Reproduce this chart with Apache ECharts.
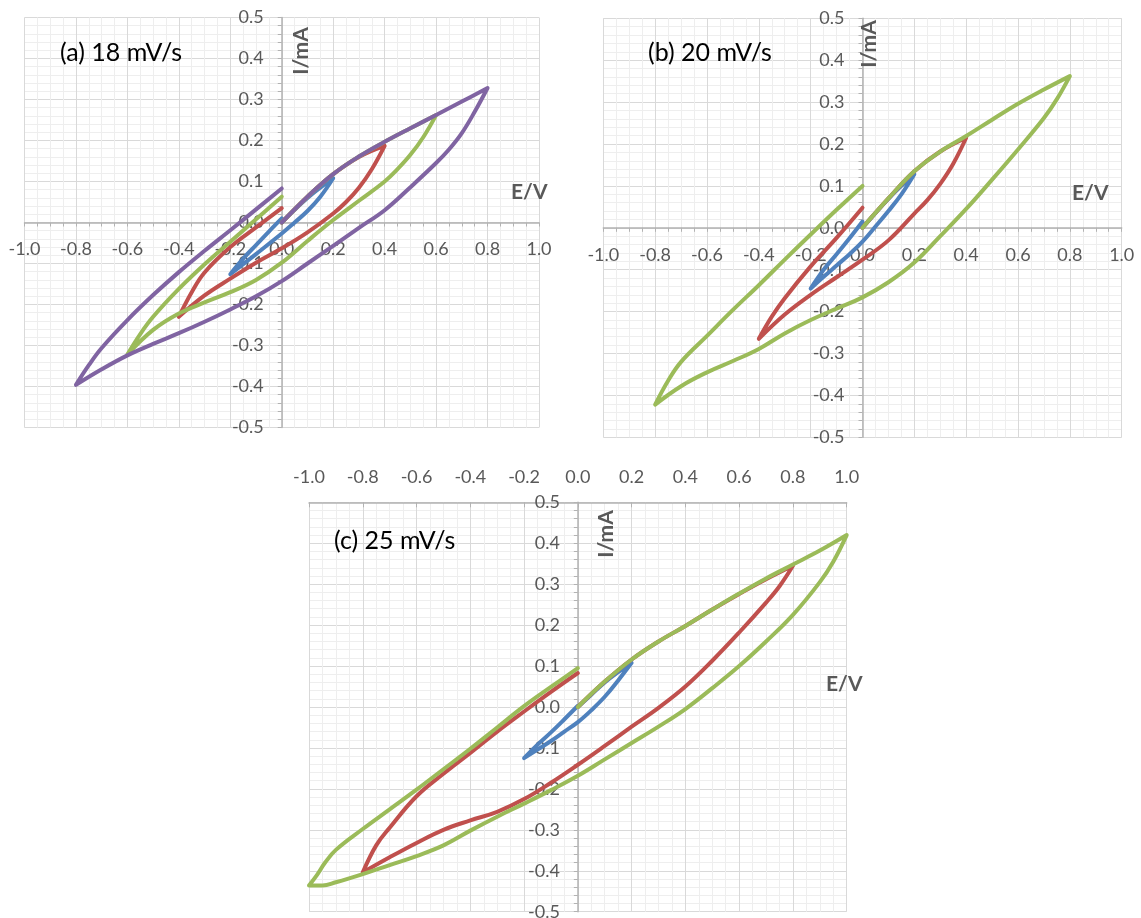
<!DOCTYPE html>
<html>
<head>
<meta charset="utf-8">
<script src="https://cdn.jsdelivr.net/npm/echarts@6/dist/echarts.min.js"></script>
<style>
  html, body { margin: 0; padding: 0; background: #fff; }
  #chart { width: 1141px; height: 918px; }
</style>
</head>
<body>
<div id="chart"></div>
<script>
// axis ticks (E/V and I/mA)
const eTicks = [-1.0, -0.8, -0.6, -0.4, -0.2, 0.0, 0.2, 0.4, 0.6, 0.8, 1.0];
const iTicks = [-0.5, -0.4, -0.3, -0.2, -0.1, 0.0, 0.1, 0.2, 0.3, 0.4, 0.5];

const panelTitles = ['(a) 18 mV/s', '(b) 20 mV/s', '(c) 25 mV/s'];

// (a) 18 mV/s  -- [E, I]
const aBlue = [[0,0],[0.05,0.031],[0.1,0.06],[0.15,0.085],[0.2,0.108],[0.15,0.063],[0.1,0.028],[0.05,0],[0,-0.027],[-0.1,-0.077],[-0.2,-0.126],[-0.15,-0.088],[-0.1,-0.055],[-0.05,-0.022],[0,0.01]];
const aRed = [[0,0],[0.1,0.063],[0.2,0.118],[0.3,0.16],[0.4,0.187],[0.35,0.13],[0.3,0.085],[0.25,0.05],[0.2,0.022],[0.1,-0.024],[0,-0.063],[-0.1,-0.098],[-0.2,-0.137],[-0.3,-0.178],[-0.4,-0.23],[-0.35,-0.17],[-0.3,-0.122],[-0.2,-0.06],[-0.1,-0.012],[0,0.035]];
const aGreen = [[0,0],[0.1,0.063],[0.2,0.118],[0.3,0.161],[0.4,0.197],[0.5,0.23],[0.6,0.262],[0.55,0.208],[0.5,0.165],[0.45,0.13],[0.4,0.1],[0.3,0.053],[0.2,0.006],[0.1,-0.045],[0,-0.098],[-0.1,-0.14],[-0.2,-0.17],[-0.3,-0.195],[-0.4,-0.222],[-0.5,-0.262],[-0.6,-0.322],[-0.55,-0.272],[-0.5,-0.23],[-0.4,-0.162],[-0.3,-0.102],[-0.2,-0.047],[-0.1,0.008],[0,0.063]];
const aPurple = [[0,0],[0.1,0.063],[0.2,0.118],[0.3,0.161],[0.4,0.197],[0.5,0.23],[0.6,0.262],[0.7,0.295],[0.8,0.328],[0.75,0.27],[0.7,0.218],[0.65,0.178],[0.6,0.145],[0.5,0.086],[0.4,0.03],[0.3,-0.013],[0.2,-0.057],[0.1,-0.1],[0,-0.143],[-0.1,-0.18],[-0.2,-0.212],[-0.3,-0.242],[-0.4,-0.27],[-0.5,-0.296],[-0.6,-0.324],[-0.7,-0.358],[-0.8,-0.396],[-0.75,-0.348],[-0.7,-0.306],[-0.6,-0.238],[-0.5,-0.177],[-0.4,-0.121],[-0.3,-0.069],[-0.2,-0.019],[-0.1,0.032],[0,0.083]];

// (b) 20 mV/s
const bBlue = [[0,0],[0.05,0.035],[0.1,0.069],[0.15,0.1],[0.2,0.128],[0.15,0.08],[0.1,0.04],[0.05,0.003],[0,-0.033],[-0.05,-0.063],[-0.1,-0.09],[-0.15,-0.117],[-0.2,-0.145],[-0.15,-0.1],[-0.1,-0.063],[-0.05,-0.025],[0,0.015]];
const bRed = [[0,0],[0.1,0.07],[0.2,0.135],[0.3,0.182],[0.4,0.215],[0.35,0.153],[0.3,0.105],[0.25,0.066],[0.2,0.034],[0.1,-0.03],[0,-0.076],[-0.1,-0.118],[-0.2,-0.16],[-0.3,-0.207],[-0.4,-0.265],[-0.35,-0.212],[-0.3,-0.168],[-0.2,-0.092],[-0.1,-0.024],[0,0.048]];
const bGreen = [[0,0],[0.1,0.07],[0.2,0.135],[0.3,0.182],[0.4,0.219],[0.5,0.258],[0.6,0.296],[0.7,0.33],[0.8,0.362],[0.75,0.307],[0.7,0.262],[0.6,0.187],[0.5,0.115],[0.4,0.045],[0.3,-0.02],[0.2,-0.083],[0.1,-0.13],[0,-0.166],[-0.1,-0.193],[-0.2,-0.22],[-0.3,-0.252],[-0.4,-0.289],[-0.5,-0.318],[-0.6,-0.345],[-0.7,-0.378],[-0.8,-0.422],[-0.75,-0.365],[-0.7,-0.32],[-0.6,-0.258],[-0.5,-0.196],[-0.4,-0.137],[-0.3,-0.076],[-0.2,-0.016],[-0.1,0.043],[0,0.1]];

// (c) 25 mV/s
const cBlue = [[0,0],[0.05,0.03],[0.1,0.06],[0.15,0.085],[0.2,0.108],[0.15,0.065],[0.1,0.025],[0.05,-0.008],[0,-0.037],[-0.05,-0.06],[-0.1,-0.083],[-0.15,-0.104],[-0.2,-0.125],[-0.15,-0.092],[-0.1,-0.062],[-0.05,-0.03],[0,0.003]];
const cRed = [[0,0],[0.1,0.062],[0.2,0.116],[0.3,0.16],[0.4,0.198],[0.5,0.238],[0.6,0.276],[0.7,0.312],[0.8,0.345],[0.75,0.295],[0.7,0.255],[0.6,0.182],[0.5,0.113],[0.4,0.05],[0.3,-0.002],[0.2,-0.048],[0.1,-0.095],[0,-0.141],[-0.1,-0.185],[-0.2,-0.225],[-0.3,-0.256],[-0.4,-0.277],[-0.5,-0.3],[-0.6,-0.332],[-0.7,-0.367],[-0.8,-0.404],[-0.75,-0.338],[-0.7,-0.295],[-0.6,-0.218],[-0.5,-0.163],[-0.4,-0.112],[-0.3,-0.06],[-0.2,-0.011],[-0.1,0.037],[0,0.083]];
const cGreen = [[0,0],[0.1,0.062],[0.2,0.116],[0.3,0.16],[0.4,0.198],[0.5,0.238],[0.6,0.277],[0.7,0.314],[0.8,0.348],[0.9,0.382],[1.0,0.42],[0.95,0.355],[0.9,0.305],[0.8,0.225],[0.7,0.16],[0.6,0.1],[0.5,0.046],[0.4,-0.005],[0.3,-0.048],[0.2,-0.088],[0.1,-0.128],[0,-0.168],[-0.1,-0.203],[-0.2,-0.236],[-0.3,-0.268],[-0.4,-0.302],[-0.5,-0.338],[-0.6,-0.364],[-0.7,-0.386],[-0.8,-0.408],[-0.9,-0.428],[-0.95,-0.436],[-1.0,-0.436],[-0.97,-0.41],[-0.94,-0.38],[-0.9,-0.349],[-0.8,-0.298],[-0.7,-0.25],[-0.6,-0.202],[-0.5,-0.152],[-0.4,-0.102],[-0.3,-0.05],[-0.2,0.002],[-0.1,0.049],[0,0.095]];

const BLUE = '#4F81BD', RED = '#C0504D', GREEN = '#9BBB59', PURPLE = '#8064A2';
const FONT = 'Lato';
const LABEL_COLOR = '#595959';
const AXIS_COLOR = '#b3b3b3';

const grids = [
	{ left: 24.5, top: 17.5, width: 514.5, height: 410 },
	{ left: 603.3, top: 18.3, width: 518.4, height: 419 },
	{ left: 309, top: 502.3, width: 537.7, height: 409.4 }
];

let chart = echarts.init(document.getElementById('chart'));

function fmt(v)
{
	if(Math.abs(v) < 1e-9)
		v = 0;
	return v.toFixed(1);
}

// axes cross at zero: shift the axis into the grid by half its size (ranges are symmetric)
function makeXAxis(idx, top)
{
	return {
		type: 'value', gridIndex: idx,
		min: eTicks[0], max: eTicks[eTicks.length - 1], interval: 0.2,
		position: top ? 'top' : 'bottom',
		offset: top ? 0 : -grids[idx].height / 2,
		axisLine: { onZero: false, lineStyle: { color: AXIS_COLOR, width: 1.5 } },
		axisTick: { show: true, inside: !!top, length: top ? 5 : 4, lineStyle: { color: AXIS_COLOR } },
		minorTick: { show: !top, splitNumber: 4, length: 4, lineStyle: { color: AXIS_COLOR } },
		axisLabel: {
			formatter: fmt, color: LABEL_COLOR, fontFamily: FONT, fontSize: 18,
			margin: top ? 16 : 18, showMinLabel: true, showMaxLabel: true
		},
		splitLine: { show: true, lineStyle: { color: '#d9d9d9', width: 1 } },
		minorSplitLine: { show: true, lineStyle: { color: '#eeeeee', width: 1 } }
	};
}

function makeYAxis(idx)
{
	return {
		type: 'value', gridIndex: idx,
		min: iTicks[0], max: iTicks[iTicks.length - 1], interval: 0.1,
		position: 'left',
		offset: -grids[idx].width / 2,
		axisLine: { onZero: false, lineStyle: { color: AXIS_COLOR, width: 1.5 } },
		axisTick: { show: true, length: 4, lineStyle: { color: AXIS_COLOR } },
		minorTick: { show: true, splitNumber: 5, length: 4, lineStyle: { color: AXIS_COLOR } },
		axisLabel: {
			formatter: fmt, color: LABEL_COLOR, fontFamily: FONT, fontSize: 18,
			margin: 18, showMinLabel: true, showMaxLabel: true
		},
		splitLine: { show: true, lineStyle: { color: '#d9d9d9', width: 1 } },
		minorSplitLine: { show: true, lineStyle: { color: '#eeeeee', width: 1 } }
	};
}

function curve(idx, data, color)
{
	return {
		type: 'line', xAxisIndex: idx, yAxisIndex: idx,
		data: data, smooth: 0.4, showSymbol: false, symbol: 'none',
		lineStyle: { color: color, width: 4, cap: 'round', join: 'round' },
		itemStyle: { color: color },
		silent: true
	};
}

function text(str, x, y, size, bold, color, rotate)
{
	return {
		type: 'text', x: x, y: y, rotation: rotate ? Math.PI / 2 : 0,
		style: {
			text: str, fontFamily: FONT, fontSize: size, fontWeight: bold ? 'bold' : 'normal',
			fill: color, align: rotate ? 'center' : 'left', verticalAlign: 'middle'
		},
		z: 100
	};
}

let option = {
	animation: false,
	backgroundColor: '#ffffff',
	grid: grids.map(g => Object.assign({ containLabel: false, outerBoundsMode: 'none' }, g)),
	xAxis: [makeXAxis(0, false), makeXAxis(1, false), makeXAxis(2, true)],
	yAxis: [makeYAxis(0), makeYAxis(1), makeYAxis(2)],
	series: [
		curve(0, aBlue, BLUE), curve(0, aRed, RED), curve(0, aGreen, GREEN), curve(0, aPurple, PURPLE),
		curve(1, bBlue, BLUE), curve(1, bRed, RED), curve(1, bGreen, GREEN),
		curve(2, cBlue, BLUE), curve(2, cRed, RED), curve(2, cGreen, GREEN)
	],
	graphic: [
		text(panelTitles[0], 60, 53, 25, false, '#000'),
		text(panelTitles[1], 648, 53, 25, false, '#000'),
		text(panelTitles[2], 334, 541, 25, false, '#000'),
		text('I/mA', 301, 51, 21, true, LABEL_COLOR, true),
		text('I/mA', 869, 44, 21, true, LABEL_COLOR, true),
		text('I/mA', 606, 534, 21, true, LABEL_COLOR, true),
		text('E/V', 511, 192, 21, true, LABEL_COLOR),
		text('E/V', 1072, 193, 21, true, LABEL_COLOR),
		text('E/V', 826, 684, 21, true, LABEL_COLOR)
	]
};

chart.setOption(option);
</script>
</body>
</html>
